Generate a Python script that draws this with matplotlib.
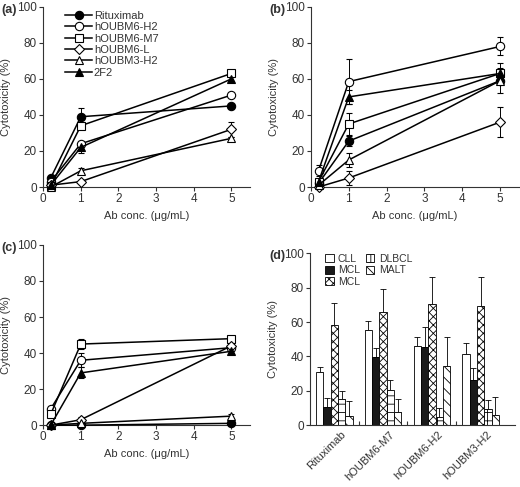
import numpy as np
import matplotlib
matplotlib.use('Agg')
import matplotlib.pyplot as plt

# ---- line panel data (a, b, c) ----
conc = [0.2, 1, 5]
series = ['Rituximab', 'hOUBM6-H2', 'hOUBM6-M7', 'hOUBM6-L', 'hOUBM3-H2', '2F2']
markers = ['o', 'o', 's', 'D', '^', '^']
filled = [True, False, False, False, False, True]

vals_a = [[5, 39, 45], [3, 24, 51], [0.5, 34, 63], [1, 3, 32], [0, 9, 27], [1, 22, 60]]
errs_a = [[1, 5, 1], [1, 1.5, 1], [0.5, 2, 1], [0.5, 1, 4], [0.5, 1.5, 1], [0.5, 3, 1]]

vals_b = [[2, 25.5, 59], [9, 58.5, 78], [3, 35, 63], [0, 5, 36], [1, 15, 59], [3, 50, 63]]
errs_b = [[1, 3, 7], [3, 12.5, 5], [1, 6, 2], [0.5, 4, 8.5], [1, 4, 2], [1, 4, 6]]

vals_c = [[0, 0, 1], [9, 36, 43], [6, 45, 48], [0, 3, 44], [0, 1, 5], [0, 29, 41]]
errs_c = [[0.3, 0.3, 0.5], [1.5, 4, 1], [2, 3, 1], [0.3, 1.5, 1], [0.3, 0.5, 1], [0.3, 3, 1]]

# ---- bar panel data (d) ----
antibodies = ['Rituximab', 'hOUBM6-M7', 'hOUBM6-H2', 'hOUBM3-H2']
cell_types = ['CLL', 'MCL', 'MCL', 'DLBCL', 'MALT']
bar_vals = np.array([[31, 10.5, 58, 15, 5.5],
                     [55.5, 39.5, 66, 20.5, 7.5],
                     [46, 45.5, 70.5, 5, 34.5],
                     [41.5, 26, 69.5, 9.5, 6]])
bar_errs = np.array([[3, 5.5, 13, 5, 8.5],
                     [5, 5.5, 13, 5.5, 7.5],
                     [5.5, 11.5, 15.5, 5, 17],
                     [6, 7, 16.5, 5, 10.5]])
bar_faces = ['white', '#1a1a1a', 'white', 'white', 'white']
bar_hatch = [None, None, 'xxxx', '++', '\\\\\\']

plt.rcParams['font.family'] = ['Liberation Sans', 'DejaVu Sans']
plt.rcParams['font.size'] = 8
plt.rcParams['hatch.linewidth'] = 0.6
text_col = '#333333'

fig = plt.figure(figsize=(5.2, 4.87), dpi=100)
ax_a = fig.add_axes([0.083, 0.616, 0.398, 0.370])
ax_b = fig.add_axes([0.598, 0.616, 0.400, 0.370])
ax_c = fig.add_axes([0.083, 0.127, 0.398, 0.370])
ax_d = fig.add_axes([0.596, 0.127, 0.394, 0.353])


def style(ax):
    for s in ['top', 'right']:
        ax.spines[s].set_visible(False)
    for s in ['left', 'bottom']:
        ax.spines[s].set_linewidth(0.8)
        ax.spines[s].set_color(text_col)
    ax.tick_params(direction='out', length=3, width=0.8, colors=text_col,
                   labelsize=8.5, pad=1.5)
    ax.set_ylim(0, 100)
    ax.set_yticks([0, 20, 40, 60, 80, 100])
    ax.set_ylabel('Cytotoxicity (%)', fontsize=8, color=text_col, labelpad=4)


def line_panel(ax, vals, errs, legend=False):
    for name, m, f, v, e in zip(series, markers, filled, vals, errs):
        ax.errorbar(conc, v, yerr=e, color='black', lw=1.1, marker=m,
                    ms=6 if m != 'D' else 4.8,
                    mfc='black' if f else 'white', mec='black', mew=0.8,
                    capsize=2, elinewidth=0.7, capthick=0.7, label=name,
                    clip_on=False, zorder=3)
    style(ax)
    ax.set_xlim(0, 5.5)
    ax.set_xticks([0, 1, 2, 3, 4, 5])
    ax.set_xlabel('Ab conc. (\u03bcg/mL)', fontsize=8, color=text_col, labelpad=4)
    if legend:
        h, l = ax.get_legend_handles_labels()
        h = [x[0] for x in h]
        ax.legend(h, l, loc='upper left', bbox_to_anchor=(0.07, 1.02),
                  frameon=False, fontsize=8, handlelength=2.4,
                  handletextpad=0.15, labelspacing=0.12, borderpad=0.2,
                  labelcolor=text_col)


line_panel(ax_a, vals_a, errs_a, legend=True)
line_panel(ax_b, vals_b, errs_b)
line_panel(ax_c, vals_c, errs_c)

# ---- bar panel ----
x = np.arange(len(antibodies))
w = 0.15
for j, ct in enumerate(cell_types):
    ax_d.bar(x + (j - 2) * w, bar_vals[:, j], w, color=bar_faces[j],
             edgecolor='black', linewidth=0.6, hatch=bar_hatch[j], label=ct,
             zorder=2)
    ax_d.errorbar(x + (j - 2) * w, bar_vals[:, j],
                  yerr=[np.zeros(len(x)), bar_errs[:, j]], fmt='none',
                  ecolor='black', elinewidth=0.6, capsize=2, capthick=0.6,
                  zorder=1)
style(ax_d)
ax_d.set_xlim(-0.5, 3.7)
ax_d.set_xticks(x + 0.12)
ax_d.set_xticklabels(antibodies, rotation=45, ha='right',
                     rotation_mode='anchor', fontsize=8)
ax_d.tick_params(axis='x', length=0, pad=3)
ax_d.set_xticks([0.5, 1.5, 2.5], minor=True)
ax_d.tick_params(axis='x', which='minor', direction='in', length=3,
                 width=0.8, colors=text_col)
ax_d.legend(loc='upper left', bbox_to_anchor=(0.04, 1.04), ncol=2,
            frameon=False, fontsize=7.5, handlelength=0.8, handleheight=0.8,
            handletextpad=0.4, labelspacing=0.15, columnspacing=0.6,
            borderpad=0.2, labelcolor=text_col)

for ax, lab in zip([ax_a, ax_b, ax_c, ax_d], ['(a)', '(b)', '(c)', '(d)']):
    ax.text(-0.2, 0.985, lab, transform=ax.transAxes, fontsize=9,
            fontweight='bold', color=text_col, va='center', ha='left')

fig.savefig('out.png', dpi=100)
